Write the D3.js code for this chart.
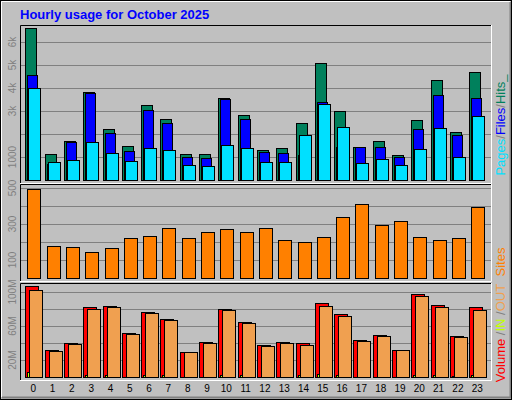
<!DOCTYPE html><html><head><meta charset="utf-8">
<script src="https://cdn.jsdelivr.net/npm/d3@7"></script>
<style>body{margin:0;background:#fff}svg{display:block}</style></head><body>
<svg id="c" width="512" height="400"></svg>
<script>
const hours=d3.range(24).map(String);
const hits=[6610,1130,1700,3830,2220,1480,3260,2650,1130,1130,3570,2830,1300,1390,2480,5090,3000,1430,1700,1090,2600,4350,2090,4700];
const files=[4570,700,1650,3780,2040,1260,3040,2480,1000,960,3520,2650,1210,1170,1090,3390,1430,1430,1430,1000,2200,3700,1960,3560];
const pages=[4000,780,870,1650,1170,830,1390,1300,650,610,1520,1390,780,780,1960,3300,2300,740,910,650,1350,2260,1000,2780];
const sites=[493,176,171,143,165,220,232,276,220,254,270,254,276,209,198,226,337,409,293,315,226,209,220,393];
const volume=[106.7,31.4,39.6,82.4,83.2,51.4,76.1,67.9,29,40.8,79.6,64.3,37.3,40.8,39.6,86.7,73.8,43.2,49,31.4,97.3,84.4,47.9,82];
const volIn=[6,0.5,0.5,2,2,0.5,2,2,0.5,0.5,2,2,0.5,0.5,2,4,2,0.5,0.5,0.5,2,2,1.5,2];
const volOut=[102,30.2,38.5,79.6,82,50.2,75,66.7,29,39.6,78.5,63.2,36.1,39.6,37.3,83.2,71.4,42,47.9,31.4,95,82,46.7,78.5];
const hitTickVals=[1000,3000,4000,5000,6000], hitTicks=["1000","3k","4k","5k","6k"];
const siteTicks=[100,300,500], volTickVals=[20,60,100], volTicks=["20M","60M","100M"];

const svg=d3.select("#c");
const F="Liberation Sans, Arial, sans-serif";
svg.append("rect").attr("width",512).attr("height",400).attr("fill","#c0c0c0");
svg.append("path").attr("d","M1.5,397V1.5H510").attr("stroke","#fff").attr("fill","none");
svg.append("path").attr("d","M2,397.5H510.5V2").attr("stroke","#808080").attr("stroke-width",2).attr("fill","none");
svg.append("rect").attr("x",.5).attr("y",.5).attr("width",511).attr("height",399).attr("stroke","#000").attr("fill","none");

svg.append("text").attr("x",20).attr("y",19).attr("font-family",F).attr("font-weight","bold").attr("font-size",13).attr("fill","#0000ff").text("Hourly usage for October 2025");

const x=d3.scaleLinear().domain([0,23]).range([25.3,469.2]);
const L=20,R=491;
function frame(y0,y1){
  svg.append("path").attr("d",`M${L+.5},${y1}V${y0+.5}H${R}`).attr("stroke","#000").attr("fill","none");
  svg.append("path").attr("d",`M${L},${y1+.5}H${R+.5}V${y0}`).attr("stroke","#fff").attr("fill","none");
}
function grid(y,vals){vals.forEach(v=>svg.append("line").attr("x1",L+1).attr("x2",R).attr("y1",Math.round(y(v))+.5).attr("y2",Math.round(y(v))+.5).attr("stroke","#808080"));}
function ylab(yv,t){svg.append("text").attr("transform",`translate(16,${yv}) rotate(-90)`).attr("text-anchor","middle").attr("font-family",F).attr("font-size",10).attr("fill","#808080").text(t);}
function bars(data,y,dx,w,col){
  svg.append("g").selectAll("rect").data(data).join("rect")
   .attr("x",(d,i)=>Math.round(x(i)+dx)+.5).attr("width",w)
   .attr("y",d=>Math.round(y(d))+.5).attr("height",d=>Math.max(0,Math.round(y(0))-Math.round(y(d))))
   .attr("fill",col).attr("stroke","#000");
}
const y1=d3.scaleLinear().domain([0,6000]).range([180,42]);
frame(25,183);
grid(y1,[1000,2000,3000,4000,5000,6000]);
bars(hits,y1,0,11,"#00805c");
bars(files,y1,2,10,"#0000ff");
bars(pages,y1,3,12,"#00e0ff");
hitTickVals.forEach((v,i)=>ylab(y1(v),hitTicks[i]));
const y2=d3.scaleLinear().domain([0,500]).range([278,188]);
frame(184,281);
grid(y2,[100,200,300,400,500]);
bars(sites,y2,2,13,"#ff8000");
siteTicks.forEach(v=>ylab(y2(v),String(v)));
const y3=d3.scaleLinear().domain([0,100]).range([377,292]);
frame(283,380);
grid(y3,[20,40,60,80,100]);
bars(volume,y3,0,13,"#ff0000");
bars(volIn,y3,2,2,"#c0ff00");
bars(volOut,y3,4,13,"#f0a050");
volTickVals.forEach((v,i)=>ylab(y3(v),volTicks[i]));
svg.append("g").selectAll("text").data(hours).join("text").attr("x",(d,i)=>x(i)+8).attr("y",392)
  .attr("text-anchor","middle").attr("font-family",F).attr("font-size",10).attr("fill","#000").text(d=>d);
function legend(cy,parts){
  const t=svg.append("text").attr("transform",`translate(505,${cy}) rotate(-90)`).attr("text-anchor","middle").attr("font-family",F).attr("font-size",13);
  parts.forEach(p=>t.append("tspan").attr("fill",p[1]).text(p[0]));
}
legend(125,[["Pages","#00e0ff"],["/","#808080"],["Files","#0000ff"],["/","#808080"],["Hits","#00805c"],["_","#00805c"]]);
legend(262,[["Sites","#ff8000"]]);
legend(333,[["Volume","#ff0000"],[" /","#808080"],["IN","#c0ff00"],[" /","#808080"],["OUT","#f0a050"]]);
</script></body></html>
